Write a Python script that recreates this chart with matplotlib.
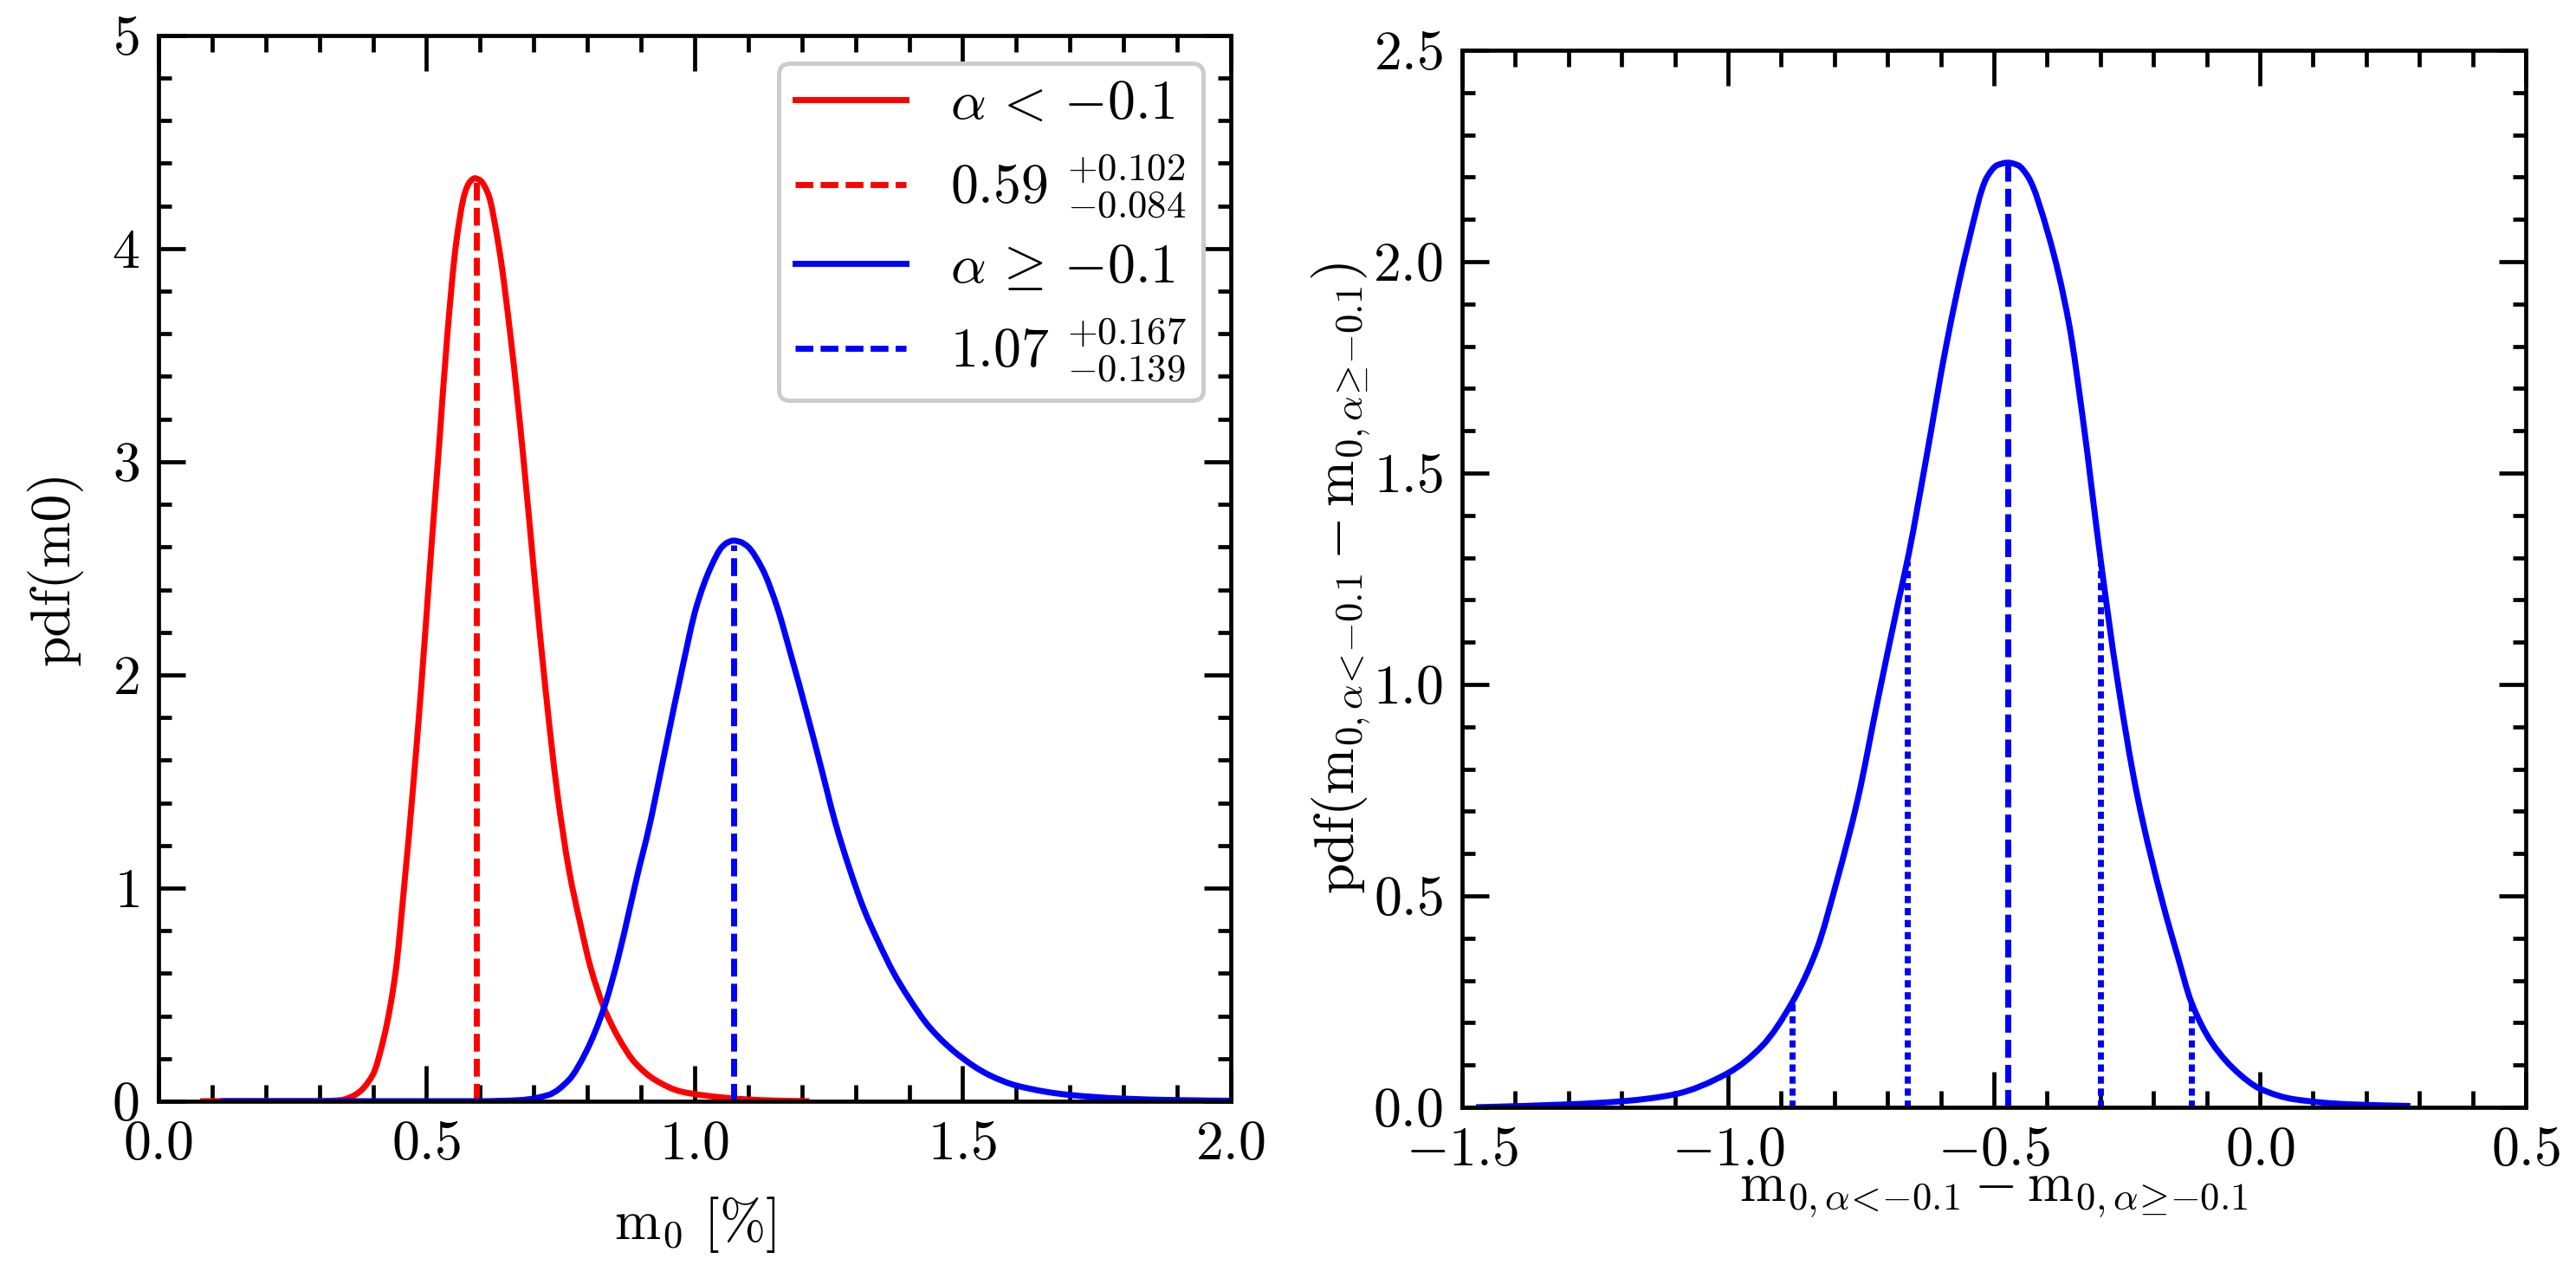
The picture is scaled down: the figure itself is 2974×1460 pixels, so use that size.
import matplotlib
matplotlib.use("Agg")
import matplotlib.pyplot as plt
import numpy as np
from matplotlib.ticker import MultipleLocator
from matplotlib.path import Path
from matplotlib.patches import PathPatch

plt.rcParams['font.family'] = 'serif'
plt.rcParams['font.serif'] = ['cmr10', 'DejaVu Serif']
plt.rcParams['mathtext.fontset'] = 'cm'
plt.rcParams['axes.formatter.use_mathtext'] = True
plt.rcParams['axes.unicode_minus'] = True
plt.rcParams['lines.scale_dashes'] = False

# ---------------- data ----------------
# left panel: pdf of m0 for alpha < -0.1 (red)
red_x = [0.078, 0.30, 0.34, 0.367, 0.399, 0.4206, 0.442, 0.458, 0.4745, 0.4906,
         0.5068, 0.523, 0.539, 0.555, 0.5714, 0.58, 0.59, 0.60, 0.6144, 0.636,
         0.6575, 0.679, 0.7006, 0.722, 0.7437, 0.766, 0.787, 0.806, 0.831, 0.857,
         0.889, 0.927, 0.975, 1.05, 1.10, 1.15, 1.214]
red_y = [0.0, 0.0, 0.005, 0.03, 0.12, 0.30, 0.60, 1.00, 1.46, 1.96,
         2.52, 3.06, 3.60, 4.02, 4.26, 4.31, 4.33, 4.32, 4.26, 3.99,
         3.57, 3.06, 2.48, 1.93, 1.45, 1.08, 0.83, 0.627, 0.438, 0.302,
         0.18, 0.099, 0.045, 0.018, 0.008, 0.003, 0.0]

# left panel: pdf of m0 for alpha >= -0.1 (blue)
blue_x = [0.116, 0.60, 0.674, 0.728, 0.7656, 0.798, 0.831, 0.857, 0.8785, 0.897,
          0.911, 0.948, 0.976, 1.0034, 1.031, 1.051, 1.062, 1.0725, 1.085, 1.0986,
          1.126, 1.153, 1.180, 1.2075, 1.2347, 1.262, 1.289, 1.316, 1.3435, 1.371,
          1.398, 1.4388, 1.493, 1.5476, 1.602, 1.697, 1.799, 1.90, 2.0]
blue_y = [0.0, 0.0, 0.005, 0.03, 0.10, 0.234, 0.438, 0.668, 0.898, 1.10,
          1.24, 1.683, 2.02, 2.32, 2.51, 2.60, 2.622, 2.63, 2.624, 2.603,
          2.499, 2.325, 2.09, 1.838, 1.577, 1.31, 1.09, 0.899, 0.743, 0.603,
          0.49, 0.345, 0.215, 0.125, 0.072, 0.03, 0.012, 0.005, 0.002]

# medians and their pdf heights (left)
med_red, med_red_h = 0.593, 4.32
med_blue, med_blue_h = 1.073, 2.61
leg_labels = [r'$\alpha\,<\,{-}0.1$', r'$0.59\ ^{+0.102}_{-0.084}$',
              r'$\alpha\,\geq\,{-}0.1$', r'$1.07\ ^{+0.167}_{-0.139}$']

# right panel: pdf of the difference
diff_x = [-1.474, -1.295, -1.192, -1.1026, -1.0, -0.936, -0.879, -0.833, -0.795, -0.756,
          -0.718, -0.679, -0.660, -0.628, -0.590, -0.551, -0.513, -0.494, -0.474, -0.455,
          -0.436, -0.397, -0.359, -0.333, -0.299, -0.269, -0.231, -0.182, -0.154, -0.129,
          -0.090, -0.038, 0.0, 0.064, 0.167, 0.283]
diff_y = [0.0, 0.007, 0.015, 0.030, 0.081, 0.145, 0.249, 0.374, 0.537, 0.729,
          0.966, 1.20, 1.31, 1.53, 1.80, 2.03, 2.20, 2.228, 2.234, 2.228,
          2.201, 2.061, 1.854, 1.63, 1.291, 1.02, 0.74, 0.48, 0.355, 0.249,
          0.152, 0.078, 0.044, 0.019, 0.007, 0.003]
diff_med, diff_med_h = -0.474, 2.23
diff_q = [-0.879, -0.663, -0.299, -0.129]
diff_q_h = [0.249, 1.29, 1.29, 0.249]


# ---------------- helpers ----------------
def smooth_path(xs, ys):
    """Bezier path through the read points (monotone Hermite tangents)."""
    x = np.asarray(xs, float)
    y = np.asarray(ys, float)
    h = np.diff(x)
    d = np.diff(y) / h
    m = np.zeros_like(x)
    m[0], m[-1] = d[0], d[-1]
    for k in range(1, len(x) - 1):
        if d[k - 1] * d[k] <= 0:
            m[k] = 0.0
        else:
            w1 = 2 * h[k] + h[k - 1]
            w2 = h[k] + 2 * h[k - 1]
            m[k] = (w1 + w2) / (w1 / d[k - 1] + w2 / d[k])
    verts = [(x[0], y[0])]
    codes = [Path.MOVETO]
    for k in range(len(x) - 1):
        verts += [(x[k] + h[k] / 3, y[k] + m[k] * h[k] / 3),
                  (x[k + 1] - h[k] / 3, y[k + 1] - m[k + 1] * h[k] / 3),
                  (x[k + 1], y[k + 1])]
        codes += [Path.CURVE4] * 3
    return Path(verts, codes)


def draw_curve(ax, xs, ys, color, lw, zorder=2):
    patch = PathPatch(smooth_path(xs, ys), fill=False, edgecolor=color,
                      lw=lw, zorder=zorder, capstyle='butt', joinstyle='round')
    ax.add_patch(patch)


# ---------------- figure ----------------
FS = 23
fig = plt.figure(figsize=(14.87, 7.3), dpi=200)
ax1 = fig.add_axes([0.0615, 0.1295, 0.4163, 0.8425])
ax2 = fig.add_axes([0.5676, 0.1247, 0.4129, 0.8356])

LW = 2.5
DASH = (0, (7.4, 3.0))
DOT = (0, (3.0, 2.0))

draw_curve(ax1, red_x, red_y, 'red', LW, zorder=2)
ax1.plot([med_red, med_red], [0, med_red_h], color='red', lw=LW, ls=DASH, zorder=2.1)
draw_curve(ax1, blue_x, blue_y, 'blue', LW, zorder=2.2)
ax1.plot([med_blue, med_blue], [0, med_blue_h], color='blue', lw=LW, ls=DASH, zorder=2.3)

# legend entries
h1, = ax1.plot([], [], color='red', lw=LW)
h2, = ax1.plot([], [], color='red', lw=LW, ls=DASH)
h3, = ax1.plot([], [], color='blue', lw=LW)
h4, = ax1.plot([], [], color='blue', lw=LW, ls=DASH)

draw_curve(ax2, diff_x, diff_y, 'blue', LW)
ax2.plot([diff_med, diff_med], [0, diff_med_h], color='blue', lw=LW, ls=DASH)
for q, hq in zip(diff_q, diff_q_h):
    ax2.plot([q, q], [0, hq], color='blue', lw=LW, ls=DOT)

ax1.set_xlim(0, 2)
ax1.set_ylim(0, 5)
ax1.xaxis.set_major_locator(MultipleLocator(0.5))
ax1.xaxis.set_minor_locator(MultipleLocator(0.1))
ax1.yaxis.set_major_locator(MultipleLocator(1))
ax1.yaxis.set_minor_locator(MultipleLocator(0.2))

ax2.set_xlim(-1.5, 0.5)
ax2.set_ylim(0, 2.5)
ax2.xaxis.set_major_locator(MultipleLocator(0.5))
ax2.xaxis.set_minor_locator(MultipleLocator(0.1))
ax2.yaxis.set_major_locator(MultipleLocator(0.5))
ax2.yaxis.set_minor_locator(MultipleLocator(0.1))

for ax in (ax1, ax2):
    for s in ax.spines.values():
        s.set_linewidth(1.7)
        s.set_zorder(3)
    ax.tick_params(which='both', direction='in', top=True, right=True,
                   width=1.7, labelsize=FS, pad=8)
    ax.tick_params(axis='x', which='major', length=14.8)
    ax.tick_params(axis='x', which='minor', length=7.0)
    ax.tick_params(axis='y', which='major', length=11.2)
    ax.tick_params(axis='y', which='minor', length=5.3)

ax1.set_xlabel(r'$\mathrm{m}_0$ [%]', fontsize=FS, labelpad=10)
ax1.set_ylabel('pdf(m0)', fontsize=FS, labelpad=12)
ax2.set_xlabel(r'$\mathrm{m}_{0,\alpha\!<\!{-}0.1} - \mathrm{m}_{0,\alpha\!\geq\!{-}0.1}$',
               fontsize=FS, labelpad=-3)
ax2.set_ylabel(r'pdf$(\mathrm{m}_{0,\alpha\!<\!{-}0.1} - \mathrm{m}_{0,\alpha\!\geq\!{-}0.1})$',
               fontsize=FS, labelpad=0)

leg = ax1.legend([h1, h2, h3, h4], leg_labels, loc='upper right', fontsize=FS,
                 fancybox=True, framealpha=1, edgecolor='#cccccc',
                 borderaxespad=0.5, borderpad=0.3, labelspacing=0.42)
leg.get_frame().set_linewidth(1.8)

fig.savefig('out.png', dpi=200)
